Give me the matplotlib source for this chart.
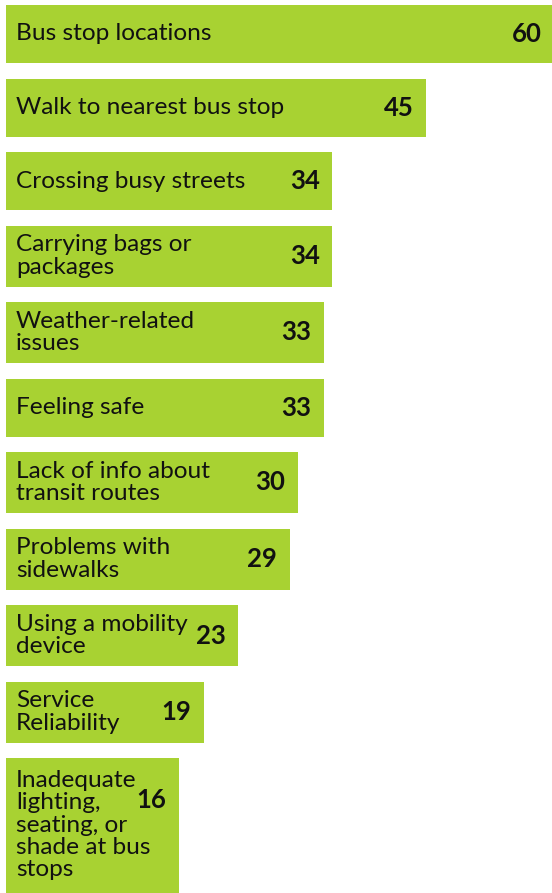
import matplotlib.pyplot as plt

plt.rcParams['font.family'] = ['Lato', 'DejaVu Sans']

labels = ['Bus stop locations', 'Walk to nearest bus stop', 'Crossing busy streets',
          'Carrying bags or\npackages', 'Weather-related\nissues', 'Feeling safe',
          'Lack of info about\ntransit routes', 'Problems with\nsidewalks',
          'Using a mobility\ndevice', 'Service\nReliability',
          'Inadequate\nlighting,\nseating, or\nshade at bus\nstops']
values = [60, 45, 34, 34, 33, 33, 30, 29, 23, 19, 16]

green = '#a8d232'
W, H = 552, 893
px = 8.54          # pixels per unit
x0 = -42 / px      # value at the left edge of the figure
bar_left = x0 + 6 / px
text_x = x0 + 16 / px

# row heights grow with the number of text lines
gap = 15.5
tops, heights = [], []
y = 5
for lab in labels:
    n = lab.count('\n') + 1
    h = max(58, 24.5 * n + 12)
    tops.append(y)
    heights.append(h)
    y += h + gap

fig = plt.figure(figsize=(W / 100, H / 100), dpi=100)
ax = fig.add_axes([0, 0, 1, 1])
ax.set_xlim(x0, x0 + W / px)
ax.set_ylim(H, 0)
ax.axis('off')

centers = [t + h / 2 for t, h in zip(tops, heights)]
ax.barh(centers, [v - bar_left for v in values], height=heights, left=bar_left,
        color=green, edgecolor='none')

for c, t, h, lab, v in zip(centers, tops, heights, labels, values):
    ax.text(text_x, c, lab, ha='left', va='center', fontsize=17.6,
            linespacing=1.08, color='#111111')
    ax.text(v - 1.5, t + min(h / 2, 42), str(v), ha='right', va='center',
            fontsize=18.5, fontweight='bold', color='#111111')

fig.savefig('out.png', dpi=100)
